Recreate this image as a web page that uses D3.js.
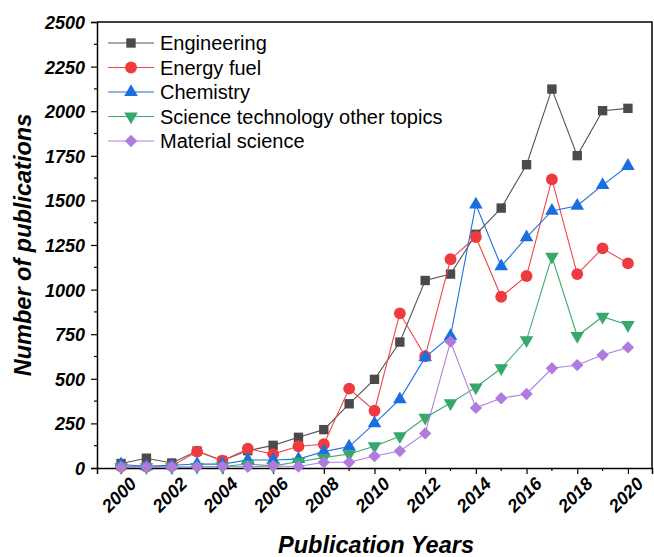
<!DOCTYPE html>
<html>
<head>
<meta charset="utf-8">
<script src="https://cdn.jsdelivr.net/npm/d3@7"></script>
<style>
  html, body { margin: 0; padding: 0; background: #fff; }
  svg { display: block; }
  text { font-family: "Liberation Sans", Arial, sans-serif; }
</style>
</head>
<body>
<svg id="chart" width="654" height="557"></svg>
<script>
// Publications per research area, 2000–2020
const years = d3.range(2000, 2021);
const engineering = [25, 55, 28, 95, 42, 97, 127, 172, 215, 360, 497, 706, 1051, 1087, 1310, 1457, 1700, 2124, 1751, 2003, 2016];
const energyFuel = [10, 8, 12, 92, 41, 108, 78, 122, 133, 445, 321, 867, 626, 1170, 1295, 960, 1076, 1618, 1087, 1231, 1147];
const chemistry = [20, 10, 15, 22, 22, 45, 45, 50, 92, 120, 250, 385, 620, 740, 1477, 1130, 1293, 1441, 1470, 1586, 1693];
const sciTech = [5, 5, 5, 6, 8, 22, 12, 35, 58, 78, 122, 178, 282, 364, 452, 559, 717, 1185, 740, 848, 802];
const material = [5, 5, 5, 6, 8, 7, 11, 8, 32, 32, 67, 95, 194, 708, 337, 391, 415, 559, 577, 633, 676];

const seriesNames = ["Engineering", "Energy fuel", "Chemistry", "Science technology other topics", "Material science"];
const seriesValues = [engineering, energyFuel, chemistry, sciTech, material];
const yTicks = d3.range(0, 2501, 250);
const xTicks = d3.range(2000, 2021, 2);

const styles = [
  { line: "#555555", fill: "#4a4a4a", symbol: d3.symbolSquare, size: 88, rot: 0 },
  { line: "#ee4448", fill: "#ef3b3f", symbol: d3.symbolCircle, size: 110, rot: 0 },
  { line: "#1f6fde", fill: "#1a6fe0", symbol: d3.symbolTriangle, size: 80, rot: 0 },
  { line: "#3aab6c", fill: "#36a86b", symbol: d3.symbolTriangle, size: 80, rot: 180 },
  { line: "#b07ee0", fill: "#b07bdf", symbol: d3.symbolSquare, size: 76, rot: 45 }
];

const svg = d3.select("#chart");
const plotLeft = 97, plotRight = 652, plotTop = 22, plotBottom = 468;

const x = d3.scaleLinear().domain([1999.05, 2020.95]).range([plotLeft, plotRight]);
const y = d3.scaleLinear().domain([0, 2500]).range([plotBottom, plotTop]);

const symbolPath = st => d3.symbol().type(st.symbol).size(st.size)();
const rotation = st => (st.rot ? ` rotate(${st.rot})` : "");

// Frame (top and right edges)
svg.append("path")
  .attr("d", `M${plotLeft},${plotTop}H${plotRight}V${plotBottom}`)
  .attr("fill", "none").attr("stroke", "#000").attr("stroke-width", 1.5);

// Y axis
const yAxis = svg.append("g").attr("transform", `translate(${plotLeft},0)`)
  .call(d3.axisLeft(y).tickValues(yTicks).tickSize(6).tickFormat(d3.format("d")));
yAxis.select(".domain").attr("stroke-width", 1.5);
yAxis.selectAll(".tick line").attr("stroke-width", 1.2);
yAxis.selectAll(".tick text")
  .attr("font-size", 18).attr("font-weight", "bold").attr("font-style", "italic")
  .attr("fill", "#000").attr("x", -12).attr("dy", "0.36em");
yAxis.append("g").selectAll("line")
  .data(d3.range(125, 2500, 250)).join("line")
  .attr("x1", 0).attr("x2", -3).attr("y1", d => y(d)).attr("y2", d => y(d))
  .attr("stroke", "#000").attr("stroke-width", 1.2);

// X axis
const xAxis = svg.append("g").attr("transform", `translate(0,${plotBottom})`)
  .call(d3.axisBottom(x).tickValues(xTicks).tickSize(6).tickFormat(d3.format("d")));
xAxis.select(".domain").attr("stroke-width", 1.5);
xAxis.selectAll(".tick line").attr("stroke-width", 1.2);
xAxis.selectAll(".tick text")
  .attr("font-size", 18).attr("font-weight", "bold").attr("font-style", "italic")
  .attr("fill", "#000")
  .attr("text-anchor", "end")
  .attr("transform", "translate(7,8) rotate(-45)")
  .attr("x", 0).attr("y", 0).attr("dy", "0.71em");
xAxis.append("g").selectAll("line")
  .data(years.filter(d => d % 2 === 1)).join("line")
  .attr("x1", d => x(d)).attr("x2", d => x(d)).attr("y1", 0).attr("y2", 3)
  .attr("stroke", "#000").attr("stroke-width", 1.2);

// Axis titles
svg.append("text")
  .attr("x", 376).attr("y", 553)
  .attr("text-anchor", "middle")
  .attr("font-size", 23.5).attr("font-weight", "bold").attr("font-style", "italic")
  .text("Publication Years");
svg.append("text")
  .attr("transform", "translate(31,245) rotate(-90)")
  .attr("text-anchor", "middle")
  .attr("font-size", 23.5).attr("font-weight", "bold").attr("font-style", "italic")
  .text("Number of publications");

// Series lines and markers
const line = d3.line().x((d, i) => x(years[i])).y(d => y(d));
seriesValues.forEach((vals, k) => {
  const st = styles[k];
  const g = svg.append("g");
  g.append("path").datum(vals).attr("d", line)
    .attr("fill", "none").attr("stroke", st.line).attr("stroke-width", 1.1);
  g.selectAll("path.m").data(vals).join("path").attr("class", "m")
    .attr("d", symbolPath(st))
    .attr("transform", (d, i) => `translate(${x(years[i])},${y(d)})` + rotation(st))
    .attr("fill", st.fill);
});

// Legend
const legend = svg.append("g").attr("transform", "translate(108,43)");
seriesNames.forEach((name, k) => {
  const st = styles[k];
  const row = legend.append("g").attr("transform", `translate(0,${k * 24.5})`);
  row.append("line").attr("x1", 0).attr("x2", 46).attr("y1", 0).attr("y2", 0)
    .attr("stroke", st.line).attr("stroke-width", 1.1);
  row.append("path").attr("d", symbolPath(st))
    .attr("transform", "translate(23,0)" + rotation(st))
    .attr("fill", st.fill);
  row.append("text").attr("x", 52).attr("y", 0).attr("dy", "0.36em")
    .attr("font-size", 20).attr("fill", "#000").text(name);
});
</script>
</body>
</html>
